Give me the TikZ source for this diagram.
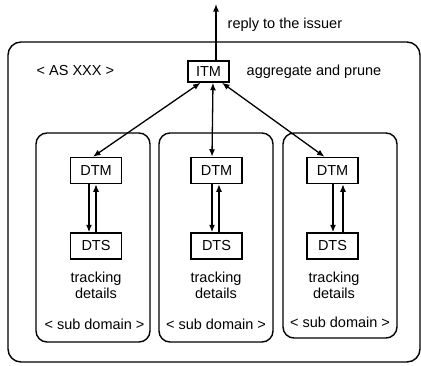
\documentclass[tikz,border=0pt]{standalone}
\usepackage{fontspec}
\setmainfont{Liberation Sans}
\usetikzlibrary{arrows.meta}
\begin{document}
\begin{tikzpicture}[x=1pt,y=-1pt,
  font=\fontsize{14.5}{16}\selectfont,
  line width=1.4pt,
  every node/.style={inner sep=0pt},
  tm/.style={draw, line width=1.5pt, minimum width=41pt, minimum height=21pt},
  ts/.style={draw, line width=1.5pt, minimum width=51pt, minimum height=26pt},
  areabox/.style={draw, line width=1.4pt, rounded corners=11pt},
  tip/.tip={Latex[length=7.5pt,width=6pt]},
  link/.style={line width=1.3pt, -tip},
  both/.style={line width=1.3pt, tip-tip}]
\useasboundingbox (0,0) rectangle (421,365);

% administrative domain
\draw[areabox, rounded corners=13pt] (8,42) rectangle (420,362);
\node[anchor=west] (as) at (36,71) {< AS XXX >};

% inter-domain tracking manager
\node[tm] (itm) at (208.5,71.5) {ITM};
\node[anchor=west] (agg) at (246,72) {aggregate and prune};
\coordinate (out) at (216,4);
\draw[link] (itm.north -| out) -- (out);
\node[anchor=west] (reply) at (227,25) {reply to the issuer};

% sub domains
\draw[areabox] (36,133) rectangle (150,342);
\draw[areabox] (159,133) rectangle (273,342);
\draw[areabox] (283,133) rectangle (397,338);

\node[ts] (dtm1) at (96,170.5) {DTM};
\node[ts] (dts1) at (96,246) {DTS};
\node[ts] (dtm2) at (216.5,170.5) {DTM};
\node[ts] (dts2) at (216.5,246) {DTS};
\node[ts] (dtm3) at (332.5,170.5) {DTM};
\node[ts] (dts3) at (332.5,246) {DTS};

\foreach \i/\x in {1/96,2/216,3/334}{
  \node[align=center, font=\fontsize{14.5}{16}\selectfont] (td\i) at (\x,285) {tracking\\details};
}
\node (sd1) at (94.5,324) {< sub domain >};
\node (sd2) at (216,324) {< sub domain >};
\node (sd3) at (340,322.5) {< sub domain >};

% ITM <-> DTM
\draw[both] ([xshift=-8pt]itm.south) -- ([xshift=-3pt]dtm1.north);
\draw[both] ([xshift=4.5pt]itm.south) -- ([xshift=-4.5pt]dtm2.north);
\draw[both] ([xshift=13.5pt]itm.south) -- ([xshift=-8pt]dtm3.north);

% DTM <-> DTS
\draw[link] ([xshift=-7pt]dtm1.south) -- ([xshift=-7pt]dts1.north);
\draw[link] ([xshift=0pt]dts1.north) -- ([xshift=0pt]dtm1.south);
\draw[link] ([xshift=-4.5pt]dtm2.south) -- ([xshift=-4.5pt]dts2.north);
\draw[link] ([xshift=2.5pt]dts2.north) -- ([xshift=2.5pt]dtm2.south);
\draw[link] ([xshift=0.5pt]dtm3.south) -- ([xshift=0.5pt]dts3.north);
\draw[link] ([xshift=10.5pt]dts3.north) -- ([xshift=10.5pt]dtm3.south);
\end{tikzpicture}
\end{document}
